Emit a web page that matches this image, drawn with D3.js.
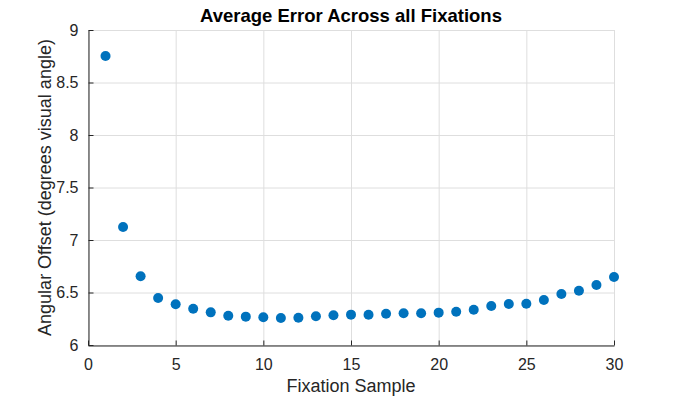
<!DOCTYPE html>
<html>
  <head>
    <meta charset="utf-8">
    <title>Average Error Across all Fixations</title>
    <script src="https://d3js.org/d3.v7.min.js"></script>
    <style>
      body { margin: 0; background: #fff; }
      svg { display: block; font-family: "Liberation Sans", Arial, sans-serif; }
    </style>
  </head>
  <body>
    <script>
      const samples = d3.range(1, 31);
      const avgError = [
        8.752, 7.124, 6.654, 6.448, 6.388, 6.346, 6.311, 6.279, 6.270, 6.264,
        6.257, 6.260, 6.273, 6.283, 6.289, 6.288, 6.298, 6.302, 6.302, 6.308,
        6.317, 6.336, 6.371, 6.390, 6.393, 6.429, 6.486, 6.517, 6.571, 6.648
      ];
      const xTicks = [0, 5, 10, 15, 20, 25, 30];
      const yTicks = [6, 6.5, 7, 7.5, 8, 8.5, 9];

      const width = 680, height = 399;
      const margin = { top: 30, right: 66, bottom: 54, left: 88 };

      const svg = d3.select("body").append("svg")
        .attr("width", width)
        .attr("height", height);

      const x = d3.scaleLinear().domain([0, 30]).range([margin.left, width - margin.right]);
      const y = d3.scaleLinear().domain([6, 9]).range([height - margin.bottom, margin.top]);

      // grid
      svg.append("g")
        .selectAll("line")
        .data(xTicks)
        .join("line")
        .attr("x1", d => x(d) + 0.5).attr("x2", d => x(d) + 0.5)
        .attr("y1", y(6)).attr("y2", y(9))
        .attr("stroke", "#dedede");
      svg.append("g")
        .selectAll("line")
        .data(yTicks)
        .join("line")
        .attr("x1", x(0)).attr("x2", x(30))
        .attr("y1", d => y(d) + 0.5).attr("y2", d => y(d) + 0.5)
        .attr("stroke", "#dedede");

      // axes
      const xAxis = svg.append("g")
        .attr("transform", "translate(0," + (y(6) + 0.5) + ")")
        .call(d3.axisBottom(x).tickValues(xTicks).tickSizeInner(-5).tickSizeOuter(0).tickPadding(10));
      const yAxis = svg.append("g")
        .attr("transform", "translate(" + (x(0) + 0.5) + ",0)")
        .call(d3.axisLeft(y).tickValues(yTicks).tickFormat(d3.format("~g")).tickSizeInner(-5).tickSizeOuter(0).tickPadding(10));

      [xAxis, yAxis].forEach(a => {
        a.select(".domain").attr("stroke", "#262626");
        a.selectAll(".tick line").attr("stroke", "#262626");
        a.selectAll(".tick text")
          .attr("fill", "#262626")
          .style("font-size", "16px")
          .style("font-family", "Liberation Sans, Arial, sans-serif");
      });
      xAxis.selectAll(".tick text").attr("dy", "0.9em");

      // points
      svg.append("g")
        .selectAll("circle")
        .data(samples)
        .join("circle")
        .attr("cx", (d, i) => x(d))
        .attr("cy", (d, i) => y(avgError[i]))
        .attr("r", 5)
        .attr("fill", "#0072bd");

      // labels
      svg.append("text")
        .attr("x", (x(0) + x(30)) / 2)
        .attr("y", 22)
        .attr("text-anchor", "middle")
        .attr("font-weight", "bold")
        .attr("font-size", "18.5px")
        .attr("fill", "#000")
        .text("Average Error Across all Fixations");

      svg.append("text")
        .attr("x", (x(0) + x(30)) / 2)
        .attr("y", 392)
        .attr("text-anchor", "middle")
        .attr("font-size", "18px")
        .attr("fill", "#262626")
        .text("Fixation Sample");

      svg.append("text")
        .attr("transform", "translate(51," + ((y(6) + y(9)) / 2) + ") rotate(-90)")
        .attr("text-anchor", "middle")
        .attr("font-size", "18px")
        .attr("fill", "#262626")
        .text("Angular Offset (degrees visual angle)");
    </script>
  </body>
</html>
